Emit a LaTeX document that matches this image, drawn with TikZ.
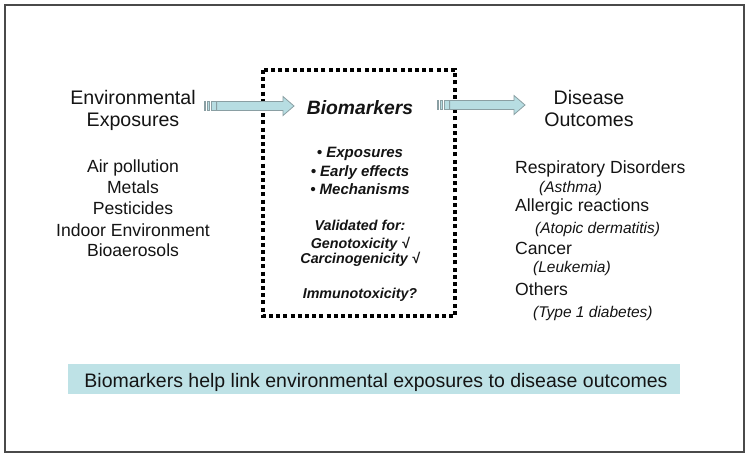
\documentclass[tikz,border=0pt]{standalone}
\usepackage{fontspec}
\setmainfont{Liberation Sans}
\definecolor{framec}{HTML}{4A4A4A}
\definecolor{arrfill}{HTML}{B7DDE2}
\definecolor{arrline}{HTML}{8A9FA3}
\definecolor{bannerc}{HTML}{BEE2E6}
\definecolor{txt}{HTML}{141414}
\tikzset{
  headtxt/.style={font=\fontsize{19.6}{22}\selectfont, text=txt, inner sep=0pt, anchor=base},
  itemtxt/.style={font=\fontsize{17.6}{21}\selectfont, text=txt, inner sep=0pt, anchor=base},
  subtxt/.style={font=\fontsize{15.5}{18}\selectfont\itshape, text=txt, inner sep=0pt, anchor=base west},
  biotxt/.style={font=\fontsize{19.3}{22}\selectfont\bfseries\itshape, text=txt, inner sep=0pt, anchor=base},
  bultxt/.style={font=\fontsize{15}{18}\selectfont\bfseries\itshape, text=txt, inner sep=0pt, anchor=base},
  valtxt/.style={font=\fontsize{14.3}{16}\selectfont\bfseries\itshape, text=txt, inner sep=0pt, anchor=base},
  arrpart/.style={fill=arrfill, draw=arrline, line width=0.8pt, line join=miter},
  dotbox/.style={draw=black, line width=3.4pt, dash pattern=on 4pt off 3.2pt},
}
% #1 name, #2 tail x, #3 tip x, #4 y
\newcommand{\stripedarrow}[4]{%
  \coordinate (#1-s) at (#2,#4);
  \coordinate (#1-e) at (#3,#4);
  \path[arrpart] ({#2},{#4-4.5}) rectangle ({#2+1.6},{#4+4.5});
  \path[arrpart] ({#2+3.2},{#4-4.5}) rectangle ({#2+5.6},{#4+4.5});
  \path[arrpart] ({#2+7.2},{#4-4.5}) rectangle ({#2+12.6},{#4+4.5});
  \path[arrpart] ({#2+12.6},{#4-4.5}) -- ({#3-11},{#4-4.5}) -- ({#3-11},{#4-9.5})
     -- (#1-e) -- ({#3-11},{#4+9.5}) -- ({#3-11},{#4+4.5}) -- ({#2+12.6},{#4+4.5}) -- cycle;
}
\begin{document}
\begin{tikzpicture}[x=1pt,y=-1pt]
\useasboundingbox (0,0) rectangle (750,456);
\fill[white] (0,0) rectangle (750,456);
% outer frame
\draw[framec, line width=1.6pt] (5,5) rectangle (744,452);

% dotted box
\draw[dotbox] (263,70) rectangle (455,316);

% left column
\node[headtxt] (env1) at (133,104) {Environmental};
\node[headtxt] (env2) at (133,126) {Exposures};
\node[itemtxt] (l1) at (133,172) {Air pollution};
\node[itemtxt] (l2) at (133,193) {Metals};
\node[itemtxt] (l3) at (133,214) {Pesticides};
\node[itemtxt] (l4) at (133,236) {Indoor Environment};
\node[itemtxt] (l5) at (133,256) {Bioaerosols};

% centre
\node[biotxt] (bio) at (360,114) {Biomarkers};
\node[bultxt] (b1) at (360,157) {\textbullet\ Exposures};
\node[bultxt] (b2) at (360,176) {\textbullet\ Early effects};
\node[bultxt] (b3) at (360,194) {\textbullet\ Mechanisms};
\node[valtxt] (v1) at (360,230) {Validated for:};
\node[valtxt] (v2) at (360,248) {Genotoxicity √};
\node[valtxt] (v3) at (360,263) {Carcinogenicity √};
\node[valtxt] (v4) at (360,298) {Immunotoxicity?};

% right column
\node[headtxt] (dis1) at (589,104) {Disease};
\node[headtxt] (dis2) at (589,126) {Outcomes};
\node[itemtxt, anchor=base west] (r1) at (515,173) {Respiratory Disorders};
\node[subtxt] (r1s) at (539,192.5) {(Asthma)};
\node[itemtxt, anchor=base west] (r2) at (515,211) {Allergic reactions};
\node[subtxt] (r2s) at (535,233.5) {(Atopic dermatitis)};
\node[itemtxt, anchor=base west] (r3) at (515,254) {Cancer};
\node[subtxt] (r3s) at (533,272.5) {(Leukemia)};
\node[itemtxt, anchor=base west] (r4) at (515,295) {Others};
\node[subtxt] (r4s) at (533,317.5) {(Type 1 diabetes)};

% arrows
\stripedarrow{al}{204}{294}{106}
\stripedarrow{ar}{437}{525}{105}

% banner
\fill[bannerc] (68,364) rectangle (680,394);
\node[headtxt, font=\fontsize{19.5}{22}\selectfont] (ban) at (376,387)
  {Biomarkers help link environmental exposures to disease outcomes};
\end{tikzpicture}
\end{document}
